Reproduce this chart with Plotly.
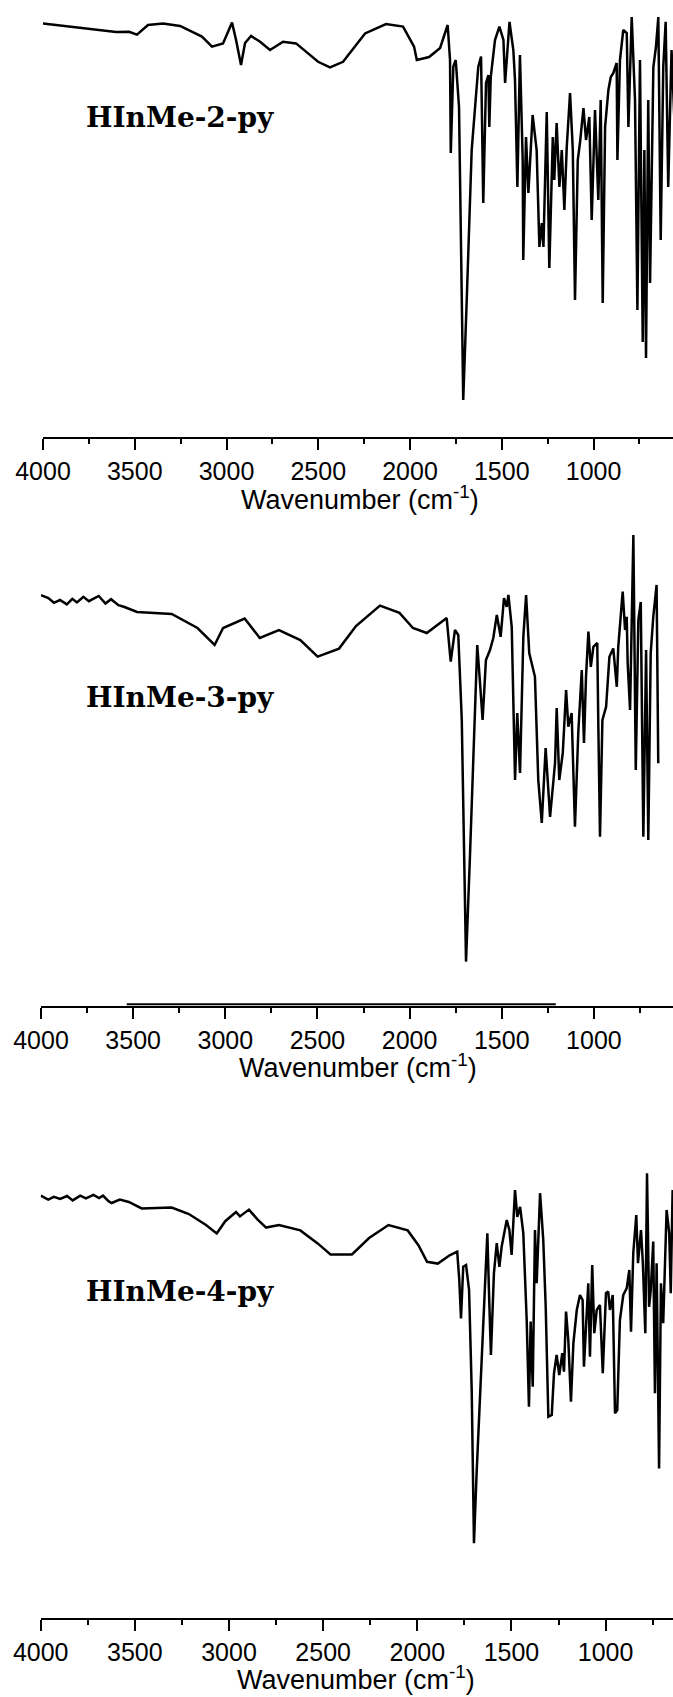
import plotly.graph_objects as go

# ---------------- data (wavenumber, relative transmittance) ----------------
wn_2py = [4000, 3602, 3531, 3488, 3428, 3346, 3253, 3134, 3079, 3019, 2970, 2948, 2921, 2899,
          2866, 2817, 2763, 2692, 2621, 2501, 2436, 2365, 2245, 2131, 2038, 1978, 1963, 1896,
          1836, 1795, 1782, 1778, 1764, 1751, 1733, 1710, 1691, 1664, 1628, 1613, 1601, 1586,
          1573, 1568, 1560, 1537, 1513, 1491, 1482, 1473, 1458, 1437, 1428, 1415, 1401, 1386,
          1383, 1368, 1355, 1332, 1310, 1295, 1282, 1273, 1255, 1241, 1222, 1214, 1201, 1186,
          1173, 1159, 1146, 1128, 1113, 1101, 1086, 1074, 1055, 1041, 1023, 1010, 992, 974,
          961, 950, 937, 919, 906, 892, 874, 870, 856, 838, 819, 810, 792, 774, 761, 747,
          732, 723, 714, 702, 692, 674, 660, 647, 634, 620, 607, 593, 575, 560]
t_2py = [103.4, 101.25, 101.3, 100.6, 103, 103.4, 102.75, 100.1, 97.6, 98.4, 103.6, 99.25, 93, 98.5,
         100.25, 98.8, 96.75, 98.8, 98.4, 93.8, 92.4, 93.8, 100.9, 103.25, 102.6, 97.6, 94.25, 95,
         97.25, 103, 94.25, 71, 92.6, 94.25, 82.5, 9.25, 34.25, 71.75, 92.6, 95.1, 58.5, 88.5,
         90.5, 77.5, 90, 99.25, 102.6, 99.25, 88.5, 93.5, 103.8, 96.75, 89.25, 62.5, 95.5, 69.25,
         44.25, 75, 61, 80.5, 71.75, 47.5, 53.5, 47.5, 81.25, 42.25, 75, 64.25, 78.5, 62.5,
         71.75, 56.75, 72.5, 86, 71.75, 34.25, 69.25, 73.5, 82.25, 74.25, 80, 54.25, 81.75, 59.25,
         84.25, 33.5, 77.5, 86.75, 90, 91, 93.5, 69.25, 94.25, 101.75, 101, 77.5, 105, 84.25, 31.75, 94.25,
         23.75, 71.75, 19.75, 84.25, 38.5, 92.5, 97.5, 105, 49.25, 92.5, 103.8, 62.5, 96.75, 80]

wn_3py = [4000, 3960, 3930, 3897, 3860, 3830, 3805, 3770, 3740, 3687, 3650, 3620, 3580, 3547,
          3479, 3291, 3151, 3058, 3012, 2953, 2895, 2813, 2709, 2593, 2499, 2383, 2291, 2161,
          2055, 1982, 1907, 1799, 1777, 1754, 1736, 1717, 1694, 1672, 1645, 1633, 1618, 1604,
          1586, 1564, 1546, 1527, 1506, 1488, 1473, 1464, 1446, 1428, 1416, 1401, 1383, 1368,
          1351, 1320, 1302, 1283, 1262, 1238, 1211, 1202, 1188, 1169, 1151, 1139, 1121, 1103,
          1085, 1066, 1054, 1043, 1030, 1017, 1003, 982, 976, 967, 954, 934, 916, 895, 876,
          868, 844, 831, 822, 817, 804, 786, 773, 759, 746, 732, 717, 705, 692, 678, 660, 651]
t_3py = [102.7, 102.0, 100.8, 101.5, 100.4, 101.8, 100.9, 102.3, 101.2, 102.5, 100.6, 101.7, 100.2, 99.75,
         98.5, 98, 94.5, 90.25, 94.5, 95.75, 96.85, 92, 94, 91.5, 87.35, 89.35, 95, 100.1,
         98.3, 94.5, 93.25, 97, 86.1, 94, 92.75, 71.5, 11.1, 38.25, 71.5, 90.25, 80.75, 71.5,
         86.5, 89, 92, 97.75, 92.3, 102, 99.8, 102.75, 94.8, 56.5, 73.25, 58.25, 92.3, 102.75,
         88.25, 82.3, 56.5, 45.75, 64.5, 47.25, 60.75, 74.5, 56.5, 63.25, 79, 69.8, 73.25, 44.8,
         68.25, 84, 65.75, 82.3, 93.6, 84.8, 89.8, 90.75, 69.8, 42.3, 71.5, 74.8, 87.3, 89.4, 79.8,
         89.8, 103.6, 94, 97.3, 85.75, 74, 117.75, 59, 96.5, 101, 42.3, 89, 41.5, 88.2, 97.3, 105.25, 60.7]

wn_4py = [4000, 3960, 3930, 3897, 3860, 3830, 3790, 3760, 3720, 3690, 3669, 3640, 3623, 3580,
          3532, 3464, 3304, 3213, 3122, 3065, 3020, 2963, 2942, 2894, 2849, 2803, 2735, 2621,
          2529, 2461, 2347, 2256, 2153, 2051, 1994, 1948, 1891, 1826, 1788, 1777, 1768, 1756,
          1741, 1725, 1711, 1699, 1685, 1658, 1640, 1628, 1618, 1609, 1593, 1578, 1564, 1552,
          1525, 1511, 1499, 1481, 1469, 1454, 1437, 1419, 1407, 1398, 1387, 1375, 1366, 1348,
          1331, 1318, 1304, 1286, 1274, 1260, 1246, 1230, 1221, 1210, 1198, 1184, 1171, 1153,
          1136, 1122, 1115, 1100, 1092, 1083, 1071, 1060, 1047, 1030, 1015, 998, 986, 977,
          962, 950, 938, 924, 906, 888, 874, 865, 853, 837, 828, 812, 802, 789, 780, 769,
          760, 747, 738, 729, 716, 706, 694, 676, 662, 654, 644]
t_4py = [105.6, 104.6, 105.3, 104.75, 105.5, 104.4, 105.6, 104.9, 105.8, 105.0, 105.6, 104.2, 103.75, 104.6,
         104, 102.4, 102.6, 101, 98.25, 96.15, 99.2, 101.5, 100.4, 102.1, 99.65, 97.6, 98.25, 96.9,
         93.65, 90.9, 90.9, 95, 98.25, 96.9, 93.2, 89.05, 88.6, 90.75, 91.6, 84.5, 74.9, 87.8,
         88.25, 82, 57, 18.7, 36.2, 65.3, 82, 96.2, 79.5, 65.75, 86.2, 93.7, 87.8, 92.8,
         99.5, 97, 90.75, 107, 100.3, 102.8, 96.2, 74.5, 52.8, 74.1, 57.8, 97, 83.7, 106.2,
         94.5, 77.8, 50.3, 50.75, 61.2, 65.75, 60.75, 66.2, 61.6, 76.6, 69.5, 54.1, 68.7, 77,
         80.75, 79.5, 62.8, 76.2, 83.7, 65.3, 88.25, 71.2, 77, 78.25, 61.2, 81.2, 81.6, 77,
         80.75, 51.2, 52, 74.5, 80.75, 82.4, 87, 71.6, 91.2, 100.75, 88.7, 97, 88.7, 71.2, 111.2, 77.8,
         82, 94.1, 56.2, 88.7, 37.4, 83.7, 73.7, 102, 96.2, 81.2, 107]

sample_names = ["HInMe-2-py", "HInMe-3-py", "HInMe-4-py"]
major_ticks = [4000, 3500, 3000, 2500, 2000, 1500, 1000]
major_labels = ["4000", "3500", "3000", "2500", "2000", "1500", "1000"]
minor_ticks = [3750, 3250, 2750, 2250, 1750, 1250, 750]

# ---------------- figure ----------------
W, H = 673, 1697
fig = go.Figure()
series = [(wn_2py, t_2py), (wn_3py, t_3py), (wn_4py, t_4py)]
for i, (xs, ys) in enumerate(series):
    sfx = "" if i == 0 else str(i + 1)
    fig.add_trace(go.Scatter(x=xs, y=ys, mode="lines",
                             line=dict(color="black", width=2.5),
                             xaxis="x" + sfx, yaxis="y" + sfx,
                             showlegend=False, hoverinfo="skip"))

# panel geometry (pixels)
panels = [
    dict(left=43, xend=567, bottom=437, top=1, yr=[0, 109], lab_y=117, title_y=498, title_x=360),
    dict(left=41, xend=571, bottom=1006, top=506, yr=[0, 125], lab_y=697, title_y=1066, title_x=358),
    dict(left=40.7, xend=642, bottom=1618, top=1118, yr=[0, 125], lab_y=1291, title_y=1678, title_x=356),
]

tickfont = dict(family="Liberation Sans, Arial, sans-serif", size=25, color="black")
titlefont = dict(family="Liberation Sans, Arial, sans-serif", size=27, color="black")
annotations = []
for i, p in enumerate(panels):
    sfx = "" if i == 0 else str(i + 1)
    fig.layout["xaxis" + sfx] = dict(
        domain=[p["left"] / W, 1], range=[4000, p["xend"]], anchor="y" + sfx,
        showline=True, linecolor="black", linewidth=2, mirror=False,
        ticks="outside", ticklen=11, tickwidth=2, tickcolor="black",
        tickmode="array", tickvals=major_ticks, ticktext=major_labels,
        tickfont=tickfont, showgrid=False, zeroline=False, automargin=False,
        minor=dict(tickmode="array", tickvals=minor_ticks, ticks="outside",
                   ticklen=5, tickwidth=2, tickcolor="black", showgrid=False),
    )
    fig.layout["yaxis" + sfx] = dict(
        domain=[1 - p["bottom"] / H, 1 - p["top"] / H], range=p["yr"],
        anchor="x" + sfx, visible=False, showgrid=False, zeroline=False,
        automargin=False,
    )
    annotations.append(dict(
        text=sample_names[i], xref="paper", yref="paper",
        x=84 / W, y=1 - p["lab_y"] / H, xanchor="left", yanchor="middle",
        showarrow=False,
        font=dict(family="DejaVu Serif", size=28, color="black", weight="bold"),
    ))
    annotations.append(dict(
        text="Wavenumber (cm<sup>-1</sup>)", xref="paper", yref="paper",
        x=p["title_x"] / W, y=1 - p["title_y"] / H, xanchor="center", yanchor="middle",
        showarrow=False, font=titlefont,
    ))

# slightly thickened stretch of the middle panel's axis line, as in the source image
fig.add_shape(type="line", xref="x2", yref="paper", x0=3535, x1=1207,
              y0=1 - 1004.3 / H, y1=1 - 1004.3 / H, line=dict(color="black", width=2))

fig.update_layout(
    width=W, height=H, margin=dict(l=0, r=0, t=0, b=0, pad=0, autoexpand=False),
    paper_bgcolor="white", plot_bgcolor="white",
    annotations=annotations, showlegend=False,
)

fig.write_html("out.html")
